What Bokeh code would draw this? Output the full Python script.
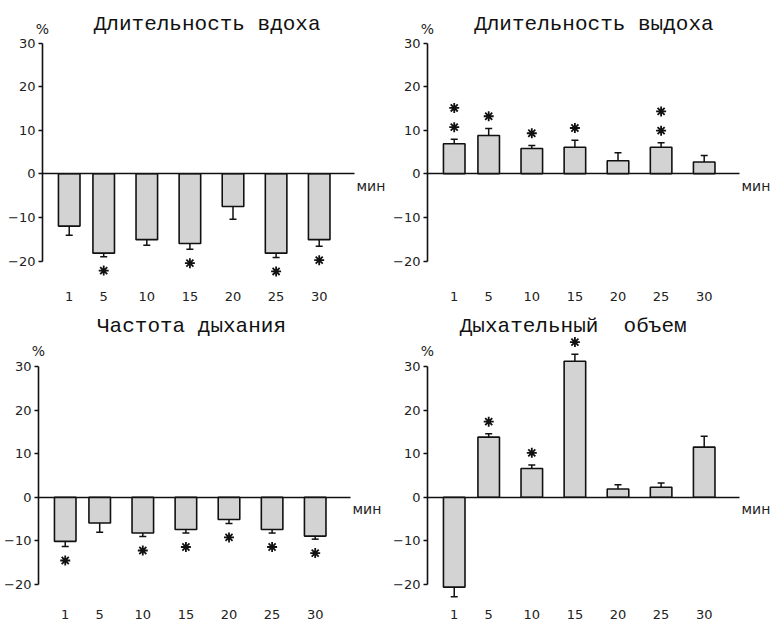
from bokeh.plotting import figure
from bokeh.models import (ColumnDataSource, Whisker, TeeHead, Label, FixedTicker,
                          LinearAxis)
from bokeh.layouts import column, row
from bokeh.embed import file_html
from bokeh.resources import INLINE

# ---- data ----
minutes = [1, 5, 10, 15, 20, 25, 30]
tick_labels = ["1", "5", "10", "15", "20", "25", "30"]
y_ticks = [-20, -10, 0, 10, 20, 30]

titles = ["Длительность вдоха", "Длительность выдоха", "Частота дыхания",
          "Дыхательный\u00a0 объем"]

inhale = [-12.0, -18.2, -15.1, -16.0, -7.5, -18.2, -15.1]
inhale_err = [2.1, 0.8, 1.3, 1.3, 2.9, 1.0, 1.5]
inhale_stars = [0, 1, 0, 1, 0, 1, 1]

exhale = [6.9, 8.8, 5.8, 6.1, 3.0, 6.1, 2.7]
exhale_err = [1.0, 1.6, 0.7, 1.6, 1.8, 1.0, 1.5]
exhale_stars = [2, 1, 1, 1, 0, 2, 0]

rate = [-10.1, -5.9, -8.2, -7.4, -5.1, -7.4, -8.9]
rate_err = [1.2, 2.1, 0.8, 0.8, 0.9, 0.8, 0.7]
rate_stars = [1, 0, 1, 1, 1, 1, 1]

volume = [-20.6, 13.8, 6.6, 31.2, 1.9, 2.3, 11.5]
volume_err = [2.2, 0.75, 0.8, 1.6, 1.0, 1.0, 2.5]
volume_stars = [0, 1, 1, 1, 0, 0, 0]

# ---- styling / layout constants ----
BAR_FILL = "#d3d3d3"
INK = "#111111"
LABEL_INK = "#222222"
X0, X1 = -2.1, 34.1          # extent of the time axis (zero line)
Y0, Y1 = -20, 30             # extent of the value axis
PX_PER_MIN = 8.62
PX_PER_UNIT = 4.36


def make_panel(title, values, errors, stars, width, height, axis_left, y30_top,
               title_x, title_dy, pct_dy, label_standoff):
    xs = X0 - axis_left / PX_PER_MIN
    xe = xs + width / PX_PER_MIN
    ye = Y1 + y30_top / PX_PER_UNIT
    ys = ye - height / PX_PER_UNIT

    p = figure(width=width, height=height, x_range=(xs, xe), y_range=(ys, ye),
               output_backend="svg", toolbar_location=None,
               x_axis_location=None, y_axis_location=None,
               min_border=0, min_border_left=0, min_border_right=0,
               min_border_top=0, min_border_bottom=0)
    p.title.visible = False
    p.outline_line_color = None
    p.background_fill_color = "white"
    p.border_fill_color = "white"
    p.grid.visible = False

    # value axis
    ya = LinearAxis(fixed_location=X0, bounds=(Y0, Y1),
                    ticker=FixedTicker(ticks=y_ticks))
    ya.axis_line_color = INK
    ya.axis_line_width = 1.6
    ya.major_tick_line_color = INK
    ya.major_tick_line_width = 1.6
    ya.major_tick_out = 4
    ya.major_tick_in = 0
    ya.minor_tick_line_color = None
    ya.major_label_text_font = "DejaVu Sans"
    ya.major_label_text_font_size = "13px"
    ya.major_label_text_color = LABEL_INK
    ya.major_label_standoff = 3
    p.add_layout(ya, "left")

    # zero line (time axis, no ticks)
    za = LinearAxis(fixed_location=0, bounds=(X0, X1), ticker=FixedTicker(ticks=[]))
    za.axis_line_color = INK
    za.axis_line_width = 1.6
    za.major_tick_line_color = None
    za.minor_tick_line_color = None
    za.major_label_text_font_size = "0px"
    p.add_layout(za, "below")

    # minute labels under the chart
    xa = LinearAxis(fixed_location=Y0, ticker=FixedTicker(ticks=minutes))
    xa.major_label_overrides = {m: t for m, t in zip(minutes, tick_labels)}
    xa.axis_line_color = None
    xa.major_tick_line_color = None
    xa.minor_tick_line_color = None
    xa.major_tick_out = 0
    xa.major_tick_in = 0
    xa.major_label_standoff = label_standoff
    xa.major_label_text_font = "DejaVu Sans"
    xa.major_label_text_font_size = "13px"
    xa.major_label_text_color = LABEL_INK
    p.add_layout(xa, "below")

    src = ColumnDataSource(dict(
        x=minutes, top=values,
        upper=[v + e for v, e in zip(values, errors)],
        lower=[v - e for v, e in zip(values, errors)],
    ))
    p.vbar(x="x", top="top", bottom=0, width=2.5, source=src,
           fill_color=BAR_FILL, line_color=INK, line_width=1.6)

    wh = Whisker(source=src, base="x", upper="upper", lower="lower",
                 line_color=INK, line_width=1.5,
                 upper_head=TeeHead(size=7, line_color=INK, line_width=1.5),
                 lower_head=TeeHead(size=7, line_color=INK, line_width=1.5))
    p.add_layout(wh)

    # significance asterisks
    sx, sy = [], []
    for m, v, e, n in zip(minutes, values, errors, stars):
        for k in range(n):
            sx.append(m)
            if v >= 0:
                sy.append(v + e + 2.8 + 4.4 * k)
            else:
                sy.append(v - e - 3.2 - 4.4 * k)
    p.scatter(sx, sy, marker="asterisk", size=10, line_color=INK, line_width=1.8)

    p.add_layout(Label(x=title_x, y=Y1, y_offset=title_dy, text=title,
                       text_align="center", text_baseline="middle",
                       text_font="Liberation Mono", text_font_size="21px",
                       text_color="#111111"))
    p.add_layout(Label(x=X0, y=Y1, y_offset=pct_dy, text="%",
                       text_align="center", text_baseline="middle",
                       text_font="DejaVu Sans", text_font_size="14px",
                       text_color=LABEL_INK))
    p.add_layout(Label(x=X1, y=0, x_offset=2, y_offset=-12, text="мин",
                       text_align="left", text_baseline="middle",
                       text_font="DejaVu Sans", text_font_size="14px",
                       text_color=LABEL_INK))
    return p


p1 = make_panel(titles[0], inhale, inhale_err, inhale_stars,
                width=393, height=304, axis_left=42, y30_top=42.5,
                title_x=17.0, title_dy=18.5, pct_dy=14.5, label_standoff=31)
p2 = make_panel(titles[1], exhale, exhale_err, exhale_stars,
                width=380, height=304, axis_left=34, y30_top=42.5,
                title_x=17.2, title_dy=18.5, pct_dy=14.5, label_standoff=31)
p3 = make_panel(titles[2], rate, rate_err, rate_stars,
                width=393, height=316, axis_left=38, y30_top=62,
                title_x=15.65, title_dy=40, pct_dy=16, label_standoff=25)
p4 = make_panel(titles[3], volume, volume_err, volume_stars,
                width=380, height=316, axis_left=34, y30_top=62,
                title_x=14.8, title_dy=40, pct_dy=16, label_standoff=25)

layout = column(row(p1, p2), row(p3, p4))

open("out.html", "w").write(file_html(layout, INLINE))
